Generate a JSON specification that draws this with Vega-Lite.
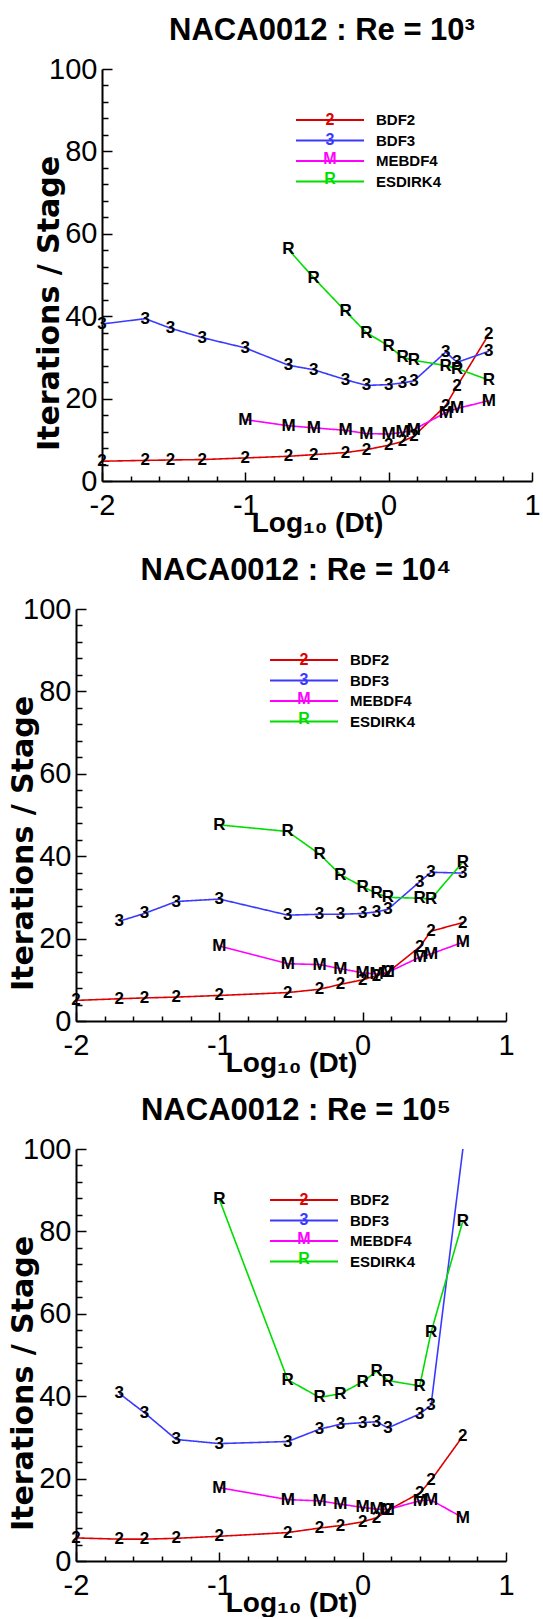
{
  "$schema": "https://vega.github.io/schema/vega-lite/v6.json",
  "background": "white",
  "padding": {"left": 8, "top": 15, "right": 0, "bottom": 0},
  "config": {"view": {"stroke": null}, "font": "Liberation Sans"},
  "datasets": {
    "p1": [
      {"x": -2, "y": 4.8, "s": "BDF2"}, {"x": -1.699, "y": 5.0, "s": "BDF2"}, {"x": -1.523, "y": 5.1, "s": "BDF2"}, {"x": -1.301, "y": 5.2, "s": "BDF2"}, {"x": -1, "y": 5.6, "s": "BDF2"}, {"x": -0.699, "y": 6.0, "s": "BDF2"}, {"x": -0.523, "y": 6.4, "s": "BDF2"}, {"x": -0.301, "y": 6.9, "s": "BDF2"}, {"x": -0.155, "y": 7.6, "s": "BDF2"}, {"x": 0, "y": 8.7, "s": "BDF2"}, {"x": 0.097, "y": 9.6, "s": "BDF2"}, {"x": 0.176, "y": 10.9, "s": "BDF2"}, {"x": 0.398, "y": 18.3, "s": "BDF2"}, {"x": 0.477, "y": 23.0, "s": "BDF2"}, {"x": 0.699, "y": 35.6, "s": "BDF2"},
      {"x": -2, "y": 38.1, "s": "BDF3"}, {"x": -1.699, "y": 39.4, "s": "BDF3"}, {"x": -1.523, "y": 37.1, "s": "BDF3"}, {"x": -1.301, "y": 34.8, "s": "BDF3"}, {"x": -1, "y": 32.3, "s": "BDF3"}, {"x": -0.699, "y": 28.1, "s": "BDF3"}, {"x": -0.523, "y": 27.0, "s": "BDF3"}, {"x": -0.301, "y": 24.6, "s": "BDF3"}, {"x": -0.155, "y": 23.2, "s": "BDF3"}, {"x": 0, "y": 23.4, "s": "BDF3"}, {"x": 0.097, "y": 23.8, "s": "BDF3"}, {"x": 0.176, "y": 24.3, "s": "BDF3"}, {"x": 0.398, "y": 31.3, "s": "BDF3"}, {"x": 0.477, "y": 28.8, "s": "BDF3"}, {"x": 0.699, "y": 31.5, "s": "BDF3"},
      {"x": -1, "y": 14.9, "s": "MEBDF4"}, {"x": -0.699, "y": 13.4, "s": "MEBDF4"}, {"x": -0.523, "y": 12.9, "s": "MEBDF4"}, {"x": -0.301, "y": 12.3, "s": "MEBDF4"}, {"x": -0.155, "y": 11.5, "s": "MEBDF4"}, {"x": 0, "y": 11.4, "s": "MEBDF4"}, {"x": 0.097, "y": 11.8, "s": "MEBDF4"}, {"x": 0.176, "y": 12.5, "s": "MEBDF4"}, {"x": 0.398, "y": 16.6, "s": "MEBDF4"}, {"x": 0.477, "y": 17.6, "s": "MEBDF4"}, {"x": 0.699, "y": 19.5, "s": "MEBDF4"},
      {"x": -0.699, "y": 56.2, "s": "ESDIRK4"}, {"x": -0.523, "y": 49.3, "s": "ESDIRK4"}, {"x": -0.301, "y": 41.2, "s": "ESDIRK4"}, {"x": -0.155, "y": 36.0, "s": "ESDIRK4"}, {"x": 0, "y": 32.8, "s": "ESDIRK4"}, {"x": 0.097, "y": 30.0, "s": "ESDIRK4"}, {"x": 0.176, "y": 29.3, "s": "ESDIRK4"}, {"x": 0.398, "y": 28.0, "s": "ESDIRK4"}, {"x": 0.477, "y": 27.3, "s": "ESDIRK4"}, {"x": 0.699, "y": 24.5, "s": "ESDIRK4"}
    ],
    "p2": [
      {"x": -2, "y": 5.0, "s": "BDF2"}, {"x": -1.699, "y": 5.4, "s": "BDF2"}, {"x": -1.523, "y": 5.6, "s": "BDF2"}, {"x": -1.301, "y": 5.8, "s": "BDF2"}, {"x": -1, "y": 6.2, "s": "BDF2"}, {"x": -0.523, "y": 6.9, "s": "BDF2"}, {"x": -0.301, "y": 7.7, "s": "BDF2"}, {"x": -0.155, "y": 8.9, "s": "BDF2"}, {"x": 0, "y": 10.0, "s": "BDF2"}, {"x": 0.097, "y": 11.0, "s": "BDF2"}, {"x": 0.176, "y": 11.8, "s": "BDF2"}, {"x": 0.398, "y": 18.0, "s": "BDF2"}, {"x": 0.477, "y": 21.8, "s": "BDF2"}, {"x": 0.699, "y": 23.9, "s": "BDF2"},
      {"x": -1.699, "y": 24.2, "s": "BDF3"}, {"x": -1.523, "y": 26.1, "s": "BDF3"}, {"x": -1.301, "y": 29.0, "s": "BDF3"}, {"x": -1, "y": 29.6, "s": "BDF3"}, {"x": -0.523, "y": 25.7, "s": "BDF3"}, {"x": -0.301, "y": 25.9, "s": "BDF3"}, {"x": -0.155, "y": 25.9, "s": "BDF3"}, {"x": 0, "y": 26.1, "s": "BDF3"}, {"x": 0.097, "y": 26.5, "s": "BDF3"}, {"x": 0.176, "y": 27.1, "s": "BDF3"}, {"x": 0.398, "y": 33.8, "s": "BDF3"}, {"x": 0.477, "y": 36.1, "s": "BDF3"}, {"x": 0.699, "y": 35.9, "s": "BDF3"},
      {"x": -1, "y": 18.2, "s": "MEBDF4"}, {"x": -0.523, "y": 13.9, "s": "MEBDF4"}, {"x": -0.301, "y": 13.7, "s": "MEBDF4"}, {"x": -0.155, "y": 12.7, "s": "MEBDF4"}, {"x": 0, "y": 11.7, "s": "MEBDF4"}, {"x": 0.097, "y": 11.4, "s": "MEBDF4"}, {"x": 0.176, "y": 11.8, "s": "MEBDF4"}, {"x": 0.398, "y": 15.5, "s": "MEBDF4"}, {"x": 0.477, "y": 16.3, "s": "MEBDF4"}, {"x": 0.699, "y": 19.1, "s": "MEBDF4"},
      {"x": -1, "y": 47.6, "s": "ESDIRK4"}, {"x": -0.523, "y": 46.0, "s": "ESDIRK4"}, {"x": -0.301, "y": 40.5, "s": "ESDIRK4"}, {"x": -0.155, "y": 35.5, "s": "ESDIRK4"}, {"x": 0, "y": 32.6, "s": "ESDIRK4"}, {"x": 0.097, "y": 31.0, "s": "ESDIRK4"}, {"x": 0.176, "y": 30.0, "s": "ESDIRK4"}, {"x": 0.398, "y": 29.8, "s": "ESDIRK4"}, {"x": 0.477, "y": 29.6, "s": "ESDIRK4"}, {"x": 0.699, "y": 38.6, "s": "ESDIRK4"}
    ],
    "p3": [
      {"x": -2, "y": 5.6, "s": "BDF2"}, {"x": -1.699, "y": 5.3, "s": "BDF2"}, {"x": -1.523, "y": 5.3, "s": "BDF2"}, {"x": -1.301, "y": 5.5, "s": "BDF2"}, {"x": -1, "y": 6.0, "s": "BDF2"}, {"x": -0.523, "y": 6.9, "s": "BDF2"}, {"x": -0.301, "y": 8.0, "s": "BDF2"}, {"x": -0.155, "y": 8.6, "s": "BDF2"}, {"x": 0, "y": 9.5, "s": "BDF2"}, {"x": 0.097, "y": 10.5, "s": "BDF2"}, {"x": 0.176, "y": 12.3, "s": "BDF2"}, {"x": 0.398, "y": 16.5, "s": "BDF2"}, {"x": 0.477, "y": 19.6, "s": "BDF2"}, {"x": 0.699, "y": 30.3, "s": "BDF2"},
      {"x": -1.699, "y": 40.7, "s": "BDF3"}, {"x": -1.523, "y": 36.0, "s": "BDF3"}, {"x": -1.301, "y": 29.5, "s": "BDF3"}, {"x": -1, "y": 28.5, "s": "BDF3"}, {"x": -0.523, "y": 29.0, "s": "BDF3"}, {"x": -0.301, "y": 32.0, "s": "BDF3"}, {"x": -0.155, "y": 33.2, "s": "BDF3"}, {"x": 0, "y": 33.6, "s": "BDF3"}, {"x": 0.097, "y": 33.8, "s": "BDF3"}, {"x": 0.176, "y": 32.3, "s": "BDF3"}, {"x": 0.398, "y": 35.7, "s": "BDF3"}, {"x": 0.477, "y": 37.8, "s": "BDF3"}, {"x": 0.699, "y": 103, "s": "BDF3"},
      {"x": -1, "y": 17.8, "s": "MEBDF4"}, {"x": -0.523, "y": 14.9, "s": "MEBDF4"}, {"x": -0.301, "y": 14.6, "s": "MEBDF4"}, {"x": -0.155, "y": 13.8, "s": "MEBDF4"}, {"x": 0, "y": 13.0, "s": "MEBDF4"}, {"x": 0.097, "y": 12.6, "s": "MEBDF4"}, {"x": 0.176, "y": 12.5, "s": "MEBDF4"}, {"x": 0.398, "y": 14.6, "s": "MEBDF4"}, {"x": 0.477, "y": 14.8, "s": "MEBDF4"}, {"x": 0.699, "y": 10.5, "s": "MEBDF4"},
      {"x": -1, "y": 87.8, "s": "ESDIRK4"}, {"x": -0.523, "y": 44.0, "s": "ESDIRK4"}, {"x": -0.301, "y": 39.7, "s": "ESDIRK4"}, {"x": -0.155, "y": 40.6, "s": "ESDIRK4"}, {"x": 0, "y": 43.5, "s": "ESDIRK4"}, {"x": 0.097, "y": 46.0, "s": "ESDIRK4"}, {"x": 0.176, "y": 43.8, "s": "ESDIRK4"}, {"x": 0.398, "y": 42.5, "s": "ESDIRK4"}, {"x": 0.477, "y": 55.5, "s": "ESDIRK4"}, {"x": 0.699, "y": 82.5, "s": "ESDIRK4"}
    ]
  },
  "spacing": 18,
  "resolve": {
    "scale": {"color": "independent", "strokeDash": "independent", "x": "independent", "y": "independent"},
    "legend": {"color": "independent", "strokeDash": "independent"}
  },
  "vconcat": [
    {
      "spacing": 0,
      "bounds": "flush",
      "resolve": {
        "scale": {"color": "independent", "strokeDash": "independent", "x": "independent", "y": "independent"},
        "legend": {"color": "independent", "strokeDash": "independent"}
      },
      "hconcat": [
        {
          "width": 26, "height": 10,
          "view": {"stroke": null},
          "data": {"values": []},
          "mark": {"type": "point", "opacity": 0}
        },
        {
          "width": 430, "height": 412,
          "title": {"text": "NACA0012 : Re = 10³", "font": "Liberation Sans", "fontSize": 31, "fontWeight": "bold", "color": "black", "anchor": "middle", "frame": "group", "baseline": "alphabetic", "offset": -16, "dx": 5},
          "data": {"name": "p1"},
          "transform": [{"calculate": "datum.s == 'BDF2' ? '2' : datum.s == 'BDF3' ? '3' : datum.s == 'MEBDF4' ? 'M' : 'R'", "as": "m"}],
          "encoding": {
            "x": {"field": "x", "type": "quantitative", "scale": {"domain": [-2, 1], "nice": false, "zero": false},
              "axis": {"title": "Log₁₀ (Dt)", "values": [-2, -1.8, -1.6, -1.4, -1.2, -1, -0.8, -0.6, -0.4, -0.2, 0, 0.2, 0.4, 0.6, 0.8, 1],
                "labelExpr": "datum.value % 1 == 0 ? '' + datum.value : ''",
                "tickSize": {"condition": {"test": "datum.value % 1 == 0", "value": -9}, "value": -5},
                "labelPadding": 19, "labelFont": "Liberation Sans", "labelFontSize": 29, "labelColor": "black", "labelFlush": false, "labelOverlap": false, "labelBound": false,
                "domainColor": "black", "domainWidth": 2, "tickColor": "black", "tickWidth": 1.5, "grid": false,
                "titleFont": "Liberation Sans", "titleFontSize": 28, "titleFontWeight": "bold", "titleColor": "black", "titleY": 50, "titleBaseline": "alphabetic"}},
            "y": {"field": "y", "type": "quantitative", "scale": {"domain": [0, 100], "nice": false, "zero": false},
              "axis": {"title": "Iterations / Stage", "values": [0, 4, 8, 12, 16, 20, 24, 28, 32, 36, 40, 44, 48, 52, 56, 60, 64, 68, 72, 76, 80, 84, 88, 92, 96, 100],
                "labelExpr": "datum.value % 20 == 0 ? '' + datum.value : ''",
                "tickSize": {"condition": {"test": "datum.value % 20 == 0", "value": -10}, "value": -6},
                "labelPadding": 15, "labelFont": "Liberation Sans", "labelFontSize": 29, "labelColor": "black", "labelFlush": false, "labelOverlap": false, "labelBound": false,
                "domainColor": "black", "domainWidth": 2, "tickColor": "black", "tickWidth": 1.5, "grid": false,
                "titleFont": "DejaVu Sans", "titleFontSize": 30, "titleFontWeight": "bold", "titleColor": "black", "titleX": -44, "titleY": 234, "titleBaseline": "alphabetic"}}
          },
          "layer": [
            {
              "mark": {"type": "line", "strokeWidth": 1.6, "clip": true},
              "encoding": {
                "color": {"field": "s", "type": "nominal",
                  "scale": {"domain": ["BDF2", "BDF3", "MEBDF4", "ESDIRK4"], "range": ["#dd0000", "#3a3aff", "#ff00ff", "#00dd00"]},
                  "legend": {"orient": "none", "legendX": 220.5, "legendY": 43.5, "title": null, "padding": 0,
                    "symbolType": "M-6.8,0H6.8", "symbolSize": 100, "symbolStrokeWidth": 2,
                    "labelFont": "Liberation Sans", "labelFontSize": 15, "labelFontWeight": "bold", "labelColor": "black", "labelOffset": 38.5, "rowPadding": 4.5}},
                "strokeDash": {"field": "m", "type": "nominal",
                  "scale": {"domain": ["2", "3", "M", "R"], "range": [[1, 0], [1, 0], [1, 0], [1, 0]]},
                  "legend": {"orient": "none", "legendX": 212, "legendY": 43, "title": null, "padding": 0,
                    "symbolOpacity": 0, "symbolSize": 1, "symbolStrokeWidth": 0,
                    "labelFont": "Liberation Sans", "labelFontSize": 16, "labelFontWeight": "bold",
                    "labelColor": {"expr": "datum.value == '2' ? '#dd0000' : datum.value == '3' ? '#3a3aff' : datum.value == 'M' ? '#ff00ff' : '#00dd00'"},
                    "labelAlign": "center", "labelOffset": 0, "rowPadding": 3.5}}
              }
            },
            {
              "transform": [{"filter": "datum.y <= 100"}],
              "mark": {"type": "text", "font": "Liberation Sans", "fontSize": 17, "fontWeight": "bold", "color": "black", "align": "center", "baseline": "middle"},
              "encoding": {"text": {"field": "m"}}
            }
          ]
        }
      ]
    },
    {
      "resolve": {
        "scale": {"color": "independent", "strokeDash": "independent", "x": "independent", "y": "independent"},
        "legend": {"color": "independent", "strokeDash": "independent"}
      },
      "hconcat": [
        {
          "width": 430, "height": 412,
          "title": {"text": "NACA0012 : Re = 10⁴", "font": "Liberation Sans", "fontSize": 31, "fontWeight": "bold", "color": "black", "anchor": "middle", "frame": "group", "baseline": "alphabetic", "offset": -16, "dx": 5},
          "data": {"name": "p2"},
          "transform": [{"calculate": "datum.s == 'BDF2' ? '2' : datum.s == 'BDF3' ? '3' : datum.s == 'MEBDF4' ? 'M' : 'R'", "as": "m"}],
          "encoding": {
            "x": {"field": "x", "type": "quantitative", "scale": {"domain": [-2, 1], "nice": false, "zero": false},
              "axis": {"title": "Log₁₀ (Dt)", "values": [-2, -1.8, -1.6, -1.4, -1.2, -1, -0.8, -0.6, -0.4, -0.2, 0, 0.2, 0.4, 0.6, 0.8, 1],
                "labelExpr": "datum.value % 1 == 0 ? '' + datum.value : ''",
                "tickSize": {"condition": {"test": "datum.value % 1 == 0", "value": -9}, "value": -5},
                "labelPadding": 19, "labelFont": "Liberation Sans", "labelFontSize": 29, "labelColor": "black", "labelFlush": false, "labelOverlap": false, "labelBound": false,
                "domainColor": "black", "domainWidth": 2, "tickColor": "black", "tickWidth": 1.5, "grid": false,
                "titleFont": "Liberation Sans", "titleFontSize": 28, "titleFontWeight": "bold", "titleColor": "black", "titleY": 50, "titleBaseline": "alphabetic"}},
            "y": {"field": "y", "type": "quantitative", "scale": {"domain": [0, 100], "nice": false, "zero": false},
              "axis": {"title": "Iterations / Stage", "values": [0, 4, 8, 12, 16, 20, 24, 28, 32, 36, 40, 44, 48, 52, 56, 60, 64, 68, 72, 76, 80, 84, 88, 92, 96, 100],
                "labelExpr": "datum.value % 20 == 0 ? '' + datum.value : ''",
                "tickSize": {"condition": {"test": "datum.value % 20 == 0", "value": -10}, "value": -6},
                "labelPadding": 15, "labelFont": "Liberation Sans", "labelFontSize": 29, "labelColor": "black", "labelFlush": false, "labelOverlap": false, "labelBound": false,
                "domainColor": "black", "domainWidth": 2, "tickColor": "black", "tickWidth": 1.5, "grid": false,
                "titleFont": "DejaVu Sans", "titleFontSize": 30, "titleFontWeight": "bold", "titleColor": "black", "titleX": -44, "titleY": 234, "titleBaseline": "alphabetic"}}
          },
          "layer": [
            {
              "mark": {"type": "line", "strokeWidth": 1.6, "clip": true},
              "encoding": {
                "color": {"field": "s", "type": "nominal",
                  "scale": {"domain": ["BDF2", "BDF3", "MEBDF4", "ESDIRK4"], "range": ["#dd0000", "#3a3aff", "#ff00ff", "#00dd00"]},
                  "legend": {"orient": "none", "legendX": 220.5, "legendY": 43.5, "title": null, "padding": 0,
                    "symbolType": "M-6.8,0H6.8", "symbolSize": 100, "symbolStrokeWidth": 2,
                    "labelFont": "Liberation Sans", "labelFontSize": 15, "labelFontWeight": "bold", "labelColor": "black", "labelOffset": 38.5, "rowPadding": 4.5}},
                "strokeDash": {"field": "m", "type": "nominal",
                  "scale": {"domain": ["2", "3", "M", "R"], "range": [[1, 0], [1, 0], [1, 0], [1, 0]]},
                  "legend": {"orient": "none", "legendX": 212, "legendY": 43, "title": null, "padding": 0,
                    "symbolOpacity": 0, "symbolSize": 1, "symbolStrokeWidth": 0,
                    "labelFont": "Liberation Sans", "labelFontSize": 16, "labelFontWeight": "bold",
                    "labelColor": {"expr": "datum.value == '2' ? '#dd0000' : datum.value == '3' ? '#3a3aff' : datum.value == 'M' ? '#ff00ff' : '#00dd00'"},
                    "labelAlign": "center", "labelOffset": 0, "rowPadding": 3.5}}
              }
            },
            {
              "transform": [{"filter": "datum.y <= 100"}],
              "mark": {"type": "text", "font": "Liberation Sans", "fontSize": 17, "fontWeight": "bold", "color": "black", "align": "center", "baseline": "middle"},
              "encoding": {"text": {"field": "m"}}
            }
          ]
        }
      ]
    },
    {
      "resolve": {
        "scale": {"color": "independent", "strokeDash": "independent", "x": "independent", "y": "independent"},
        "legend": {"color": "independent", "strokeDash": "independent"}
      },
      "hconcat": [
        {
          "width": 430, "height": 412,
          "title": {"text": "NACA0012 : Re = 10⁵", "font": "Liberation Sans", "fontSize": 31, "fontWeight": "bold", "color": "black", "anchor": "middle", "frame": "group", "baseline": "alphabetic", "offset": -16, "dx": 5},
          "data": {"name": "p3"},
          "transform": [{"calculate": "datum.s == 'BDF2' ? '2' : datum.s == 'BDF3' ? '3' : datum.s == 'MEBDF4' ? 'M' : 'R'", "as": "m"}],
          "encoding": {
            "x": {"field": "x", "type": "quantitative", "scale": {"domain": [-2, 1], "nice": false, "zero": false},
              "axis": {"title": "Log₁₀ (Dt)", "values": [-2, -1.8, -1.6, -1.4, -1.2, -1, -0.8, -0.6, -0.4, -0.2, 0, 0.2, 0.4, 0.6, 0.8, 1],
                "labelExpr": "datum.value % 1 == 0 ? '' + datum.value : ''",
                "tickSize": {"condition": {"test": "datum.value % 1 == 0", "value": -9}, "value": -5},
                "labelPadding": 19, "labelFont": "Liberation Sans", "labelFontSize": 29, "labelColor": "black", "labelFlush": false, "labelOverlap": false, "labelBound": false,
                "domainColor": "black", "domainWidth": 2, "tickColor": "black", "tickWidth": 1.5, "grid": false,
                "titleFont": "Liberation Sans", "titleFontSize": 28, "titleFontWeight": "bold", "titleColor": "black", "titleY": 50, "titleBaseline": "alphabetic"}},
            "y": {"field": "y", "type": "quantitative", "scale": {"domain": [0, 100], "nice": false, "zero": false, "clamp": true},
              "axis": {"title": "Iterations / Stage", "values": [0, 4, 8, 12, 16, 20, 24, 28, 32, 36, 40, 44, 48, 52, 56, 60, 64, 68, 72, 76, 80, 84, 88, 92, 96, 100],
                "labelExpr": "datum.value % 20 == 0 ? '' + datum.value : ''",
                "tickSize": {"condition": {"test": "datum.value % 20 == 0", "value": -10}, "value": -6},
                "labelPadding": 15, "labelFont": "Liberation Sans", "labelFontSize": 29, "labelColor": "black", "labelFlush": false, "labelOverlap": false, "labelBound": false,
                "domainColor": "black", "domainWidth": 2, "tickColor": "black", "tickWidth": 1.5, "grid": false,
                "titleFont": "DejaVu Sans", "titleFontSize": 30, "titleFontWeight": "bold", "titleColor": "black", "titleX": -44, "titleY": 234, "titleBaseline": "alphabetic"}}
          },
          "layer": [
            {
              "mark": {"type": "line", "strokeWidth": 1.6, "clip": true},
              "encoding": {
                "color": {"field": "s", "type": "nominal",
                  "scale": {"domain": ["BDF2", "BDF3", "MEBDF4", "ESDIRK4"], "range": ["#dd0000", "#3a3aff", "#ff00ff", "#00dd00"]},
                  "legend": {"orient": "none", "legendX": 220.5, "legendY": 43.5, "title": null, "padding": 0,
                    "symbolType": "M-6.8,0H6.8", "symbolSize": 100, "symbolStrokeWidth": 2,
                    "labelFont": "Liberation Sans", "labelFontSize": 15, "labelFontWeight": "bold", "labelColor": "black", "labelOffset": 38.5, "rowPadding": 4.5}},
                "strokeDash": {"field": "m", "type": "nominal",
                  "scale": {"domain": ["2", "3", "M", "R"], "range": [[1, 0], [1, 0], [1, 0], [1, 0]]},
                  "legend": {"orient": "none", "legendX": 212, "legendY": 43, "title": null, "padding": 0,
                    "symbolOpacity": 0, "symbolSize": 1, "symbolStrokeWidth": 0,
                    "labelFont": "Liberation Sans", "labelFontSize": 16, "labelFontWeight": "bold",
                    "labelColor": {"expr": "datum.value == '2' ? '#dd0000' : datum.value == '3' ? '#3a3aff' : datum.value == 'M' ? '#ff00ff' : '#00dd00'"},
                    "labelAlign": "center", "labelOffset": 0, "rowPadding": 3.5}}
              }
            },
            {
              "transform": [{"filter": "datum.y <= 100"}],
              "mark": {"type": "text", "font": "Liberation Sans", "fontSize": 17, "fontWeight": "bold", "color": "black", "align": "center", "baseline": "middle"},
              "encoding": {"text": {"field": "m"}}
            }
          ]
        }
      ]
    }
  ]
}
